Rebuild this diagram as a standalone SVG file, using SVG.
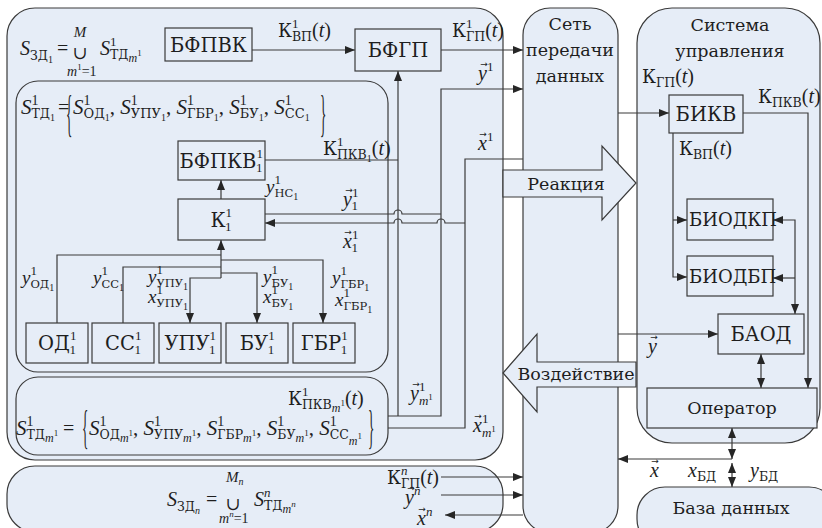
<svg xmlns="http://www.w3.org/2000/svg" width="822" height="528" viewBox="0 0 822 528" font-family="'Liberation Serif',serif">
<defs>
<marker id="ah" viewBox="0 0 10 8" refX="10" refY="4" markerWidth="10" markerHeight="8" markerUnits="userSpaceOnUse" orient="auto-start-reverse"><path d="M0,0L10,4L0,8Z" fill="#262626"/></marker>
</defs>
<style>
.pan{fill:#e6edf7;stroke:#3a3a3a;stroke-width:1.2}
.bx{fill:#e6edf7;stroke:#3a3a3a;stroke-width:1.2}
.ln{fill:none;stroke:#3a3a3a;stroke-width:1.2}
.a{marker-end:url(#ah)}
.d{marker-start:url(#ah);marker-end:url(#ah)}
text{fill:#1e1e1e;font-size:20px}
.fm{font-size:21px}
.t{font-family:'DejaVu Serif',serif;font-size:17.5px}
.bl{font-family:'DejaVu Serif',serif;font-size:19.5px}
.ck{font-family:'DejaVu Serif',serif;font-size:18px}
.cb{font-family:'DejaVu Serif',serif;font-size:12.5px}
.cB{font-family:'DejaVu Serif',serif;font-size:13px}
.cs{font-family:'DejaVu Serif',serif;font-size:11.5px}
.i{font-family:'Liberation Serif',serif;font-style:italic}
.p{font-family:'Liberation Serif',serif;font-size:13px}
.p14{font-family:'Liberation Serif',serif;font-size:14px}
.q{font-family:'Liberation Serif',serif;font-size:10px}
.mm{font-family:'Liberation Serif',serif;font-size:12px;font-style:italic}
.n9{font-family:'Liberation Serif',serif;font-size:9px}
.v{font-size:9px;font-family:'DejaVu Sans',sans-serif}
.u{font-family:'DejaVu Serif',serif;font-size:18px}
.c{text-anchor:middle}
</style>
<rect width="822" height="528" fill="#fff"/>

<g id="zd1"><rect class="pan" x="7" y="8" width="496" height="452" rx="28"/></g>
<g id="td1"><rect class="pan" x="16" y="81" width="372" height="291" rx="22"/></g>
<g id="tdm"><rect class="pan" x="16" y="377" width="372" height="78" rx="22"/></g>
<g id="zdn"><rect class="pan" x="7" y="466" width="496" height="66" rx="28"/></g>
<g id="net"><rect class="pan" x="523" y="8" width="95" height="525" rx="27"/>
<text class="t c" x="570" y="30">Сеть</text><text class="t c" x="570" y="56">передачи</text><text class="t c" x="570" y="82">данных</text></g>
<g id="ctrl"><rect class="pan" x="637" y="8" width="183" height="435" rx="35"/>
<text class="t c" x="730" y="31">Система</text><text class="t c" x="730" y="57">управления</text></g>
<g id="db"><rect class="pan" x="637" y="487" width="200" height="60" rx="28"/><text class="t c" x="731" y="514">База данных</text></g>

<g id="reaction"><path class="pan" d="M503,170H602V146L636,183L602,220V197H503Z"/><text class="t c" x="566" y="190">Реакция</text></g>
<g id="impact"><path class="pan" d="M636,362H537V334L503,373L537,412V387H636Z"/><text class="t c" x="576" y="380">Воздействие</text></g>

<g id="connectors">
<path class="ln a" d="M252,50H355"/>
<path class="ln a" d="M441,50H523"/>
<path class="ln a" d="M388,416H441V89H523"/>
<path class="ln a" d="M398,416V71"/>
<path class="ln" d="M265,160H398"/>
<path class="ln" d="M265,214H394a4,4 0 0 1 8,0H441"/>
<path class="ln" d="M523,159H465V428H388"/>
<path class="ln a" d="M465,223H445a4,4 0 0 0 -8,0H402a4,4 0 0 0 -8,0H265"/>
<path class="ln a" d="M221,199V180"/>
<path class="ln a" d="M221,278V240"/>
<path class="ln" d="M57,323V255H221"/>
<path class="ln" d="M123,323V267H221"/>
<path class="ln a" d="M221,260H323V323"/>
<path class="ln a" d="M221,273H257V323"/>
<path class="ln a" d="M221,278H190V323"/>
<path class="ln a" d="M441,477H523"/>
<path class="ln a" d="M441,495H523"/>
<path class="ln a" d="M523,515H445"/>
<path class="ln a" d="M618,113H669"/>
<path class="ln a" d="M743,113H808V388"/>
<path class="ln a" d="M673,133V277H687"/>
<path class="ln a" d="M673,220H687"/>
<path class="ln d" d="M773,220H795V314"/>
<path class="ln a" d="M795,278H773"/>
<path class="ln a" d="M618,334H718"/>
<path class="ln d" d="M761,354V388"/>
<path class="ln d" d="M732,428V459"/>
<path class="ln a" d="M732,459H618"/>
<path class="ln d" d="M732,463V487"/>
</g>

<g id="bfpvk"><rect class="bx" x="165" y="28" width="87" height="33"/><text class="bl c" x="208.5" y="52">БФПВК</text></g>
<g id="bfgp"><rect class="bx" x="355" y="29" width="86" height="42"/><text class="bl c" x="398" y="57">БФГП</text></g>
<g id="bfpkv"><rect class="bx" x="178" y="141" width="87" height="39"/><text class="bl c" x="221" y="168">БФПКВ<tspan class="p" dy="-10">1</tspan><tspan class="p" dx="-6.5" dy="14">1</tspan></text></g>
<g id="k1"><rect class="bx" x="178" y="199" width="87" height="41"/><text class="bl c" x="221" y="227">К<tspan class="p" dy="-10">1</tspan><tspan class="p" dx="-6.5" dy="14">1</tspan></text></g>
<g id="od"><rect class="bx" x="26" y="323" width="62" height="40"/><text class="bl c" x="57" y="350">ОД<tspan class="p" dy="-10">1</tspan><tspan class="p" dx="-6.5" dy="14">1</tspan></text></g>
<g id="ss"><rect class="bx" x="92" y="323" width="62" height="40"/><text class="bl c" x="123" y="350">СС<tspan class="p" dy="-10">1</tspan><tspan class="p" dx="-6.5" dy="14">1</tspan></text></g>
<g id="upu"><rect class="bx" x="159" y="323" width="62" height="40"/><text class="bl c" x="190" y="350">УПУ<tspan class="p" dy="-10">1</tspan><tspan class="p" dx="-6.5" dy="14">1</tspan></text></g>
<g id="bu"><rect class="bx" x="226" y="323" width="62" height="40"/><text class="bl c" x="257" y="350">БУ<tspan class="p" dy="-10">1</tspan><tspan class="p" dx="-6.5" dy="14">1</tspan></text></g>
<g id="gbr"><rect class="bx" x="293" y="323" width="62" height="40"/><text class="bl c" x="324" y="350">ГБР<tspan class="p" dy="-10">1</tspan><tspan class="p" dx="-6.5" dy="14">1</tspan></text></g>

<g id="bikv"><rect class="bx" x="669" y="95" width="74" height="38"/><text class="bl c" x="706" y="121">БИКВ</text></g>
<g id="biodkp"><rect class="bx" x="687" y="199" width="86" height="41"/><text class="t" x="689" y="226" style="font-size:18px">БИОДКП</text></g>
<g id="biodbp"><rect class="bx" x="687" y="256" width="86" height="40"/><text class="t" x="689" y="283" style="font-size:18px">БИОДБП</text></g>
<g id="baod"><rect class="bx" x="718" y="314" width="86" height="40"/><text class="bl c" x="761" y="341">БАОД</text></g>
<g id="operator"><rect class="bx" x="647" y="388" width="170" height="40"/><text class="t c" x="732" y="414">Оператор</text></g>

<g id="formulas">
<text x="20" y="55"><tspan class="i">S</tspan><tspan class="cb" dy="5">ЗД</tspan><tspan class="q" dy="3">1</tspan></text>
<text x="57" y="55">=</text>
<text class="u c" x="80" y="59">∪</text>
<text class="c i" x="80" y="37" style="font-size:15px">M</text>
<text x="67" y="76" style="font-size:14px"><tspan class="i">m</tspan><tspan class="n9" dy="-6">1</tspan><tspan dy="6">=1</tspan></text>
<text x="100" y="55"><tspan class="i">S</tspan><tspan class="p" dy="-9">1</tspan><tspan class="cb" dx="-6.5" dy="13">ТД</tspan><tspan class="mm" dy="3">m</tspan><tspan class="n9" dy="-6">1</tspan></text>

<text x="21" y="114" class="fm"><tspan class="i">S</tspan><tspan class="p14" dy="-9">1</tspan><tspan class="cb" dx="-7" dy="13">ТД</tspan><tspan class="q" dy="3">1</tspan></text>
<text x="58" y="114">=</text>
<text transform="translate(66,130) scale(0.55,2.1)" style="font-size:24px">{</text>
<text x="73" y="114" class="fm"><tspan class="i">S</tspan><tspan class="p14" dy="-9">1</tspan><tspan class="cB" dx="-7" dy="13">ОД</tspan><tspan class="q" dy="3">1</tspan><tspan dy="-7">, </tspan><tspan class="i">S</tspan><tspan class="p14" dy="-9">1</tspan><tspan class="cB" dx="-7" dy="13">УПУ</tspan><tspan class="q" dy="3">1</tspan><tspan dy="-7">, </tspan><tspan class="i">S</tspan><tspan class="p14" dy="-9">1</tspan><tspan class="cB" dx="-7" dy="13">ГБР</tspan><tspan class="q" dy="3">1</tspan><tspan dy="-7">, </tspan><tspan class="i">S</tspan><tspan class="p14" dy="-9">1</tspan><tspan class="cB" dx="-7" dy="13">БУ</tspan><tspan class="q" dy="3">1</tspan><tspan dy="-7">, </tspan><tspan class="i">S</tspan><tspan class="p14" dy="-9">1</tspan><tspan class="cB" dx="-7" dy="13">СС</tspan><tspan class="q" dy="3">1</tspan></text>
<text transform="translate(320,130) scale(0.55,2.1)" style="font-size:24px">}</text>

<text x="16" y="435" class="fm"><tspan class="i">S</tspan><tspan class="p14" dy="-9">1</tspan><tspan class="cb" dx="-7" dy="13">ТД</tspan><tspan class="mm" dy="3">m</tspan><tspan class="n9" dy="-6">1</tspan></text>
<text x="63" y="435">=</text>
<text transform="translate(82,443) scale(0.55,1.95)" style="font-size:24px">{</text>
<text x="89" y="435" class="fm"><tspan class="i">S</tspan><tspan class="p14" dy="-9">1</tspan><tspan class="cb" dx="-7" dy="13">ОД</tspan><tspan class="mm" dy="3">m</tspan><tspan class="n9" dy="-6">1</tspan><tspan dy="-1">, </tspan><tspan class="i">S</tspan><tspan class="p14" dy="-9">1</tspan><tspan class="cb" dx="-7" dy="13">УПУ</tspan><tspan class="mm" dy="3">m</tspan><tspan class="n9" dy="-6">1</tspan><tspan dy="-1">, </tspan><tspan class="i">S</tspan><tspan class="p14" dy="-9">1</tspan><tspan class="cb" dx="-7" dy="13">ГБР</tspan><tspan class="mm" dy="3">m</tspan><tspan class="n9" dy="-6">1</tspan><tspan dy="-1">, </tspan><tspan class="i">S</tspan><tspan class="p14" dy="-9">1</tspan><tspan class="cb" dx="-7" dy="13">БУ</tspan><tspan class="mm" dy="3">m</tspan><tspan class="n9" dy="-6">1</tspan><tspan dy="-1">, </tspan><tspan class="i">S</tspan><tspan class="p14" dy="-9">1</tspan><tspan class="cb" dx="-7" dy="13">СС</tspan><tspan class="mm" dy="6">m</tspan><tspan class="n9" dy="-6">1</tspan></text>
<text transform="translate(368,443) scale(0.55,1.95)" style="font-size:24px">}</text>

<text x="167" y="506"><tspan class="i">S</tspan><tspan class="cb" dy="5">ЗД</tspan><tspan class="q i" dy="3">n</tspan></text>
<text x="206" y="506">=</text>
<text class="u c" x="233" y="510">∪</text>
<text x="226" y="482"><tspan class="i" style="font-size:15px">M</tspan><tspan class="i q" dy="3">n</tspan></text>
<text x="219" y="523" style="font-size:14px"><tspan class="i">m</tspan><tspan class="i n9" dy="-6">n</tspan><tspan dy="6">=1</tspan></text>
<text x="254" y="506"><tspan class="i">S</tspan><tspan class="p i" dy="-9">n</tspan><tspan class="cb" dx="-6.5" dy="13">ТД</tspan><tspan class="mm" dy="3">m</tspan><tspan class="i n9" dy="-6">n</tspan></text>
</g>

<g id="labels">
<text x="278" y="37"><tspan class="ck">К</tspan><tspan class="p" dy="-9">1</tspan><tspan class="cb" dx="-6.5" dy="13">ВП</tspan><tspan dy="-4">(</tspan><tspan class="i">t</tspan>)</text>
<text x="452" y="37"><tspan class="ck">К</tspan><tspan class="p" dy="-9">1</tspan><tspan class="cb" dx="-6.5" dy="13">ГП</tspan><tspan dy="-4">(</tspan><tspan class="i">t</tspan>)</text>
<text x="478" y="80"><tspan class="i">y</tspan><tspan class="p" dy="-9">1</tspan></text><text class="v c" x="484" y="67">→</text>
<text x="478" y="150"><tspan class="i">x</tspan><tspan class="p" dy="-9">1</tspan></text><text class="v c" x="483" y="137">→</text>
<text x="323" y="155"><tspan class="ck">К</tspan><tspan class="p" dy="-9">1</tspan><tspan class="cb" dx="-6.5" dy="13">ПКВ</tspan><tspan class="q" dy="3">1</tspan><tspan dy="-7">(</tspan><tspan class="i">t</tspan>)</text>
<text x="266" y="193" style="font-size:19px"><tspan class="i">y</tspan><tspan class="p" dy="-9">1</tspan><tspan class="cs" dx="-6.5" dy="13">НС</tspan><tspan class="q" dy="3">1</tspan></text>
<text x="343" y="206"><tspan class="i">y</tspan><tspan class="p" dy="-9">1</tspan><tspan class="p" dx="-6.5" dy="13">1</tspan></text><text class="v c" x="349" y="193">→</text>
<text x="343" y="248"><tspan class="i">x</tspan><tspan class="p" dy="-9">1</tspan><tspan class="p" dx="-6.5" dy="13">1</tspan></text><text class="v c" x="348" y="235">→</text>

<text x="22" y="284" style="font-size:19px"><tspan class="i">y</tspan><tspan class="p" dy="-9">1</tspan><tspan class="cs" dx="-6.5" dy="13">ОД</tspan><tspan class="q" dy="3">1</tspan></text>
<text x="93" y="284" style="font-size:19px"><tspan class="i">y</tspan><tspan class="p" dy="-9">1</tspan><tspan class="cs" dx="-6.5" dy="13">СС</tspan><tspan class="q" dy="3">1</tspan></text>
<text x="148" y="283" style="font-size:19px"><tspan class="i">y</tspan><tspan class="p" dy="-9">1</tspan><tspan class="cs" dx="-6.5" dy="13">УПУ</tspan><tspan class="q" dy="3">1</tspan></text>
<text x="148" y="303" style="font-size:19px"><tspan class="i">x</tspan><tspan class="p" dy="-9">1</tspan><tspan class="cs" dx="-6.5" dy="13">УПУ</tspan><tspan class="q" dy="3">1</tspan></text>
<text x="263" y="283" style="font-size:19px"><tspan class="i">y</tspan><tspan class="p" dy="-9">1</tspan><tspan class="cs" dx="-6.5" dy="13">БУ</tspan><tspan class="q" dy="3">1</tspan></text>
<text x="263" y="303" style="font-size:19px"><tspan class="i">x</tspan><tspan class="p" dy="-9">1</tspan><tspan class="cs" dx="-6.5" dy="13">БУ</tspan><tspan class="q" dy="3">1</tspan></text>
<text x="332" y="284" style="font-size:19px"><tspan class="i">y</tspan><tspan class="p" dy="-9">1</tspan><tspan class="cs" dx="-6.5" dy="13">ГБР</tspan><tspan class="q" dy="3">1</tspan></text>
<text x="335" y="306" style="font-size:19px"><tspan class="i">x</tspan><tspan class="p" dy="-9">1</tspan><tspan class="cs" dx="-6.5" dy="13">ГБР</tspan><tspan class="q" dy="3">1</tspan></text>

<text x="288" y="405"><tspan class="ck">К</tspan><tspan class="p" dy="-9">1</tspan><tspan class="cb" dx="-6.5" dy="13">ПКВ</tspan><tspan class="mm" dy="3">m</tspan><tspan class="n9" dy="-6">1</tspan><tspan dy="-1">(</tspan><tspan class="i">t</tspan>)</text>
<text x="410" y="400"><tspan class="i">y</tspan><tspan class="p" dy="-9">1</tspan><tspan class="mm" dx="-6.5" dy="14" style="font-size:13px">m</tspan><tspan class="n9" dy="-5">1</tspan></text><text class="v c" x="416" y="387">→</text>
<text x="473" y="432"><tspan class="i">x</tspan><tspan class="p" dy="-9">1</tspan><tspan class="mm" dx="-6.5" dy="14" style="font-size:13px">m</tspan><tspan class="n9" dy="-5">1</tspan></text><text class="v c" x="478" y="419">→</text>

<text x="387" y="484"><tspan class="ck">К</tspan><tspan class="p i" dy="-9">n</tspan><tspan class="cb" dx="-6.5" dy="13">ГП</tspan><tspan dy="-4">(</tspan><tspan class="i">t</tspan>)</text>
<text x="405" y="504"><tspan class="i">y</tspan><tspan class="p i" dy="-9">n</tspan></text><text class="v c" x="411" y="491">→</text>
<text x="417" y="525"><tspan class="i">x</tspan><tspan class="p i" dy="-9">n</tspan></text><text class="v c" x="422" y="512">→</text>

<text x="642" y="83"><tspan class="ck">К</tspan><tspan class="cb" dy="4">ГП</tspan><tspan dy="-4">(</tspan><tspan class="i">t</tspan>)</text>
<text x="758" y="103"><tspan class="ck">К</tspan><tspan class="cb" dy="4">ПКВ</tspan><tspan dy="-4">(</tspan><tspan class="i">t</tspan>)</text>
<text x="679" y="155"><tspan class="ck">К</tspan><tspan class="cb" dy="4">ВП</tspan><tspan dy="-4">(</tspan><tspan class="i">t</tspan>)</text>
<text x="648" y="353" class="i">y</text><text class="v c" x="654" y="340">→</text>
<text x="650" y="477" class="i">x</text><text class="v c" x="655" y="464">→</text>
<text x="688" y="477"><tspan class="i">x</tspan><tspan class="cb" dy="4">БД</tspan></text>
<text x="750" y="477"><tspan class="i">y</tspan><tspan class="cb" dy="4">БД</tspan></text>
</g>
</svg>
